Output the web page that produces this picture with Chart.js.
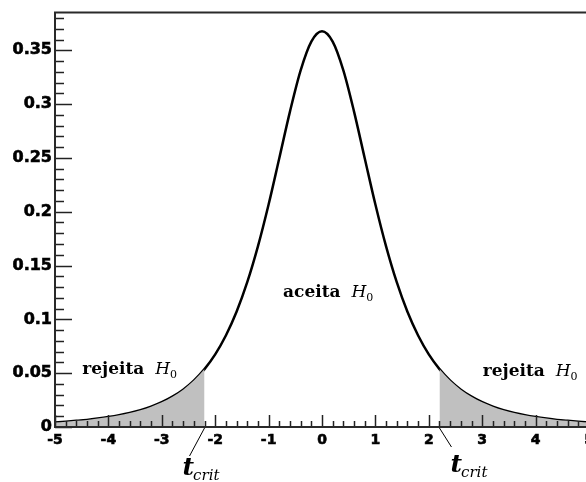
<!DOCTYPE html>
<html><head><meta charset="utf-8">
<script src="https://cdn.jsdelivr.net/npm/chart.js@4.4.1/dist/chart.umd.min.js"></script>
<style>
html,body{margin:0;padding:0;background:#fff;overflow:hidden;width:586px;height:482px}
#wrap{position:relative;width:604px;height:482px}
</style></head>
<body><div id="wrap"><canvas id="c" width="604" height="482"></canvas></div>
<script>
// Values
const tValues = [-5,-4.8,-4.6,-4.4,-4.2,-4,-3.8,-3.6,-3.4,-3.2,-3,-2.8,-2.6,-2.4,-2.2,-2,-1.8,-1.6,-1.4,-1.2,-1,-0.8,-0.6,-0.4,-0.2,0,
  0.2,0.4,0.6,0.8,1,1.2,1.4,1.6,1.8,2,2.2,2.4,2.6,2.8,3,3.2,3.4,3.6,3.8,4,4.2,4.4,4.6,4.8,5];
const density = [0.0042,0.0049,0.0057,0.0066,0.0078,0.0092,0.0109,0.0130,0.0156,0.0189,0.0230,0.0282,0.0347,0.0431,0.0538,0.0675,0.0850,0.1070,0.1345,0.1678,0.2067,0.2497,0.2930,0.3313,0.3580,0.3676,
  0.3580,0.3313,0.2930,0.2497,0.2067,0.1678,0.1345,0.1070,0.0850,0.0675,0.0538,0.0431,0.0347,0.0282,0.0230,0.0189,0.0156,0.0130,0.0109,0.0092,0.0078,0.0066,0.0057,0.0049,0.0042];
const tCrit = 2.2;
const xTickValues = [-5,-4,-3,-2,-1,0,1,2,3,4,5];
const yTickLabels = ['0','0.05','0.1','0.15','0.2','0.25','0.3','0.35'];
const regionLabels = { reject: 'rejeita', accept: 'aceita', hyp: 'H', hypSub: '0', crit: 't', critSub: 'crit' };

const curve = tValues.map((t,i)=>({x:t,y:density[i]}));
const leftTail = curve.filter(p=>p.x <= -tCrit + 1e-9);
const rightTail = curve.filter(p=>p.x >= tCrit - 1e-9);

const tailStyle = {fill:'origin', backgroundColor:'#c0c0c0', borderWidth:0, pointRadius:0, cubicInterpolationMode:'monotone'};

const overlay = {
  id:'overlay',
  afterDatasetsDraw(chart){
    const ctx = chart.ctx, xs = chart.scales.x, ys = chart.scales.y, a = chart.chartArea;
    ctx.save();
    ctx.strokeStyle = '#222'; ctx.lineWidth = 1.5;
    for (let k=0;k<=38;k++){
      const v = k/100, y = Math.round(ys.getPixelForValue(v))+0.5;
      const len = (k%5===0)?17:9;
      ctx.beginPath(); ctx.moveTo(a.left, y); ctx.lineTo(a.left+len, y); ctx.stroke();
    }
    for (let k=-25;k<=25;k++){
      const v = k/5, x = Math.round(xs.getPixelForValue(v))+0.5;
      const len = (k%5===0)?12:6;
      ctx.beginPath(); ctx.moveTo(x, a.bottom); ctx.lineTo(x, a.bottom-len); ctx.stroke();
    }
    ctx.lineWidth = 2; ctx.strokeStyle = '#2a2a2a';
    ctx.beginPath();
    ctx.moveTo(a.left, a.bottom); ctx.lineTo(a.left, a.top); ctx.lineTo(a.right, a.top); ctx.lineTo(a.right, a.bottom); ctx.closePath();
    ctx.stroke();

    ctx.fillStyle = '#000'; ctx.textBaseline = 'alphabetic'; ctx.textAlign = 'left';
    function hLabel(word, x, y){
      ctx.font = 'bold 17px "DejaVu Serif"';
      ctx.fillText(word, x, y);
      let w = ctx.measureText(word).width + 11;
      ctx.font = 'italic 17px "DejaVu Serif"';
      ctx.fillText(regionLabels.hyp, x+w, y);
      w += ctx.measureText(regionLabels.hyp).width;
      ctx.font = '11px "DejaVu Serif"';
      ctx.fillText(regionLabels.hypSub, x+w, y+4);
    }
    hLabel(regionLabels.reject, xs.getPixelForValue(-4.49), ys.getPixelForValue(0.049));
    hLabel(regionLabels.accept, xs.getPixelForValue(-0.73), ys.getPixelForValue(0.121));
    hLabel(regionLabels.reject, xs.getPixelForValue(3.01), ys.getPixelForValue(0.047));

    function crit(xv, dx2, dy2, tx, ty){
      const x0 = xs.getPixelForValue(xv), y0 = a.bottom + 1;
      ctx.strokeStyle = '#000'; ctx.lineWidth = 1;
      ctx.beginPath(); ctx.moveTo(x0, y0); ctx.lineTo(x0+dx2, y0+dy2); ctx.stroke();
      ctx.font = 'bold italic 25px "DejaVu Serif"';
      ctx.fillText(regionLabels.crit, x0+tx, y0+ty);
      const w = ctx.measureText(regionLabels.crit).width;
      ctx.font = 'italic 15px "DejaVu Serif"';
      ctx.fillText(regionLabels.critSub, x0+tx+w-1, y0+ty+5);
    }
    crit(-tCrit, -15, 28, -22, 47);
    crit(tCrit, 12, 19, 11, 44);
    ctx.restore();
  }
};

new Chart(document.getElementById('c'), {
  type:'line',
  data:{datasets:[
    Object.assign({data:leftTail}, tailStyle),
    Object.assign({data:rightTail}, tailStyle),
    {data:curve, borderColor:'#000', borderWidth:2.5, fill:false, pointRadius:0, cubicInterpolationMode:'monotone'}
  ]},
  options:{
    responsive:false, animation:false, events:[],
    layout:{padding:{top:10,right:15,left:0,bottom:0}},
    plugins:{legend:{display:false}, tooltip:{enabled:false}},
    scales:{
      x:{type:'linear', min:-5, max:5,
        afterBuildTicks(s){ s.ticks = xTickValues.map(v=>({value:v})); },
        afterFit(s){ s.height = 55; },
        grid:{display:false, drawTicks:false}, border:{display:false},
        ticks:{padding:5, color:'#000', textStrokeColor:'#000', textStrokeWidth:0.6,
          font:{family:'DejaVu Sans', weight:'bold', size:14}, maxRotation:0, autoSkip:false,
          callback:v=>String(v)}},
      y:{type:'linear', min:0, max:0.385,
        afterBuildTicks(s){ s.ticks = yTickLabels.map(l=>({value:parseFloat(l)})); },
        afterFit(s){ s.width = 55; },
        grid:{display:false, drawTicks:false}, border:{display:false},
        ticks:{padding:3, color:'#000', textStrokeColor:'#000', textStrokeWidth:0.6,
          font:{family:'DejaVu Sans', weight:'bold', size:16}, autoSkip:false,
          callback:(v)=>yTickLabels.find(l=>Math.abs(parseFloat(l)-v)<1e-9) ?? ''}}
    }
  },
  plugins:[overlay]
});
</script>
</body></html>
